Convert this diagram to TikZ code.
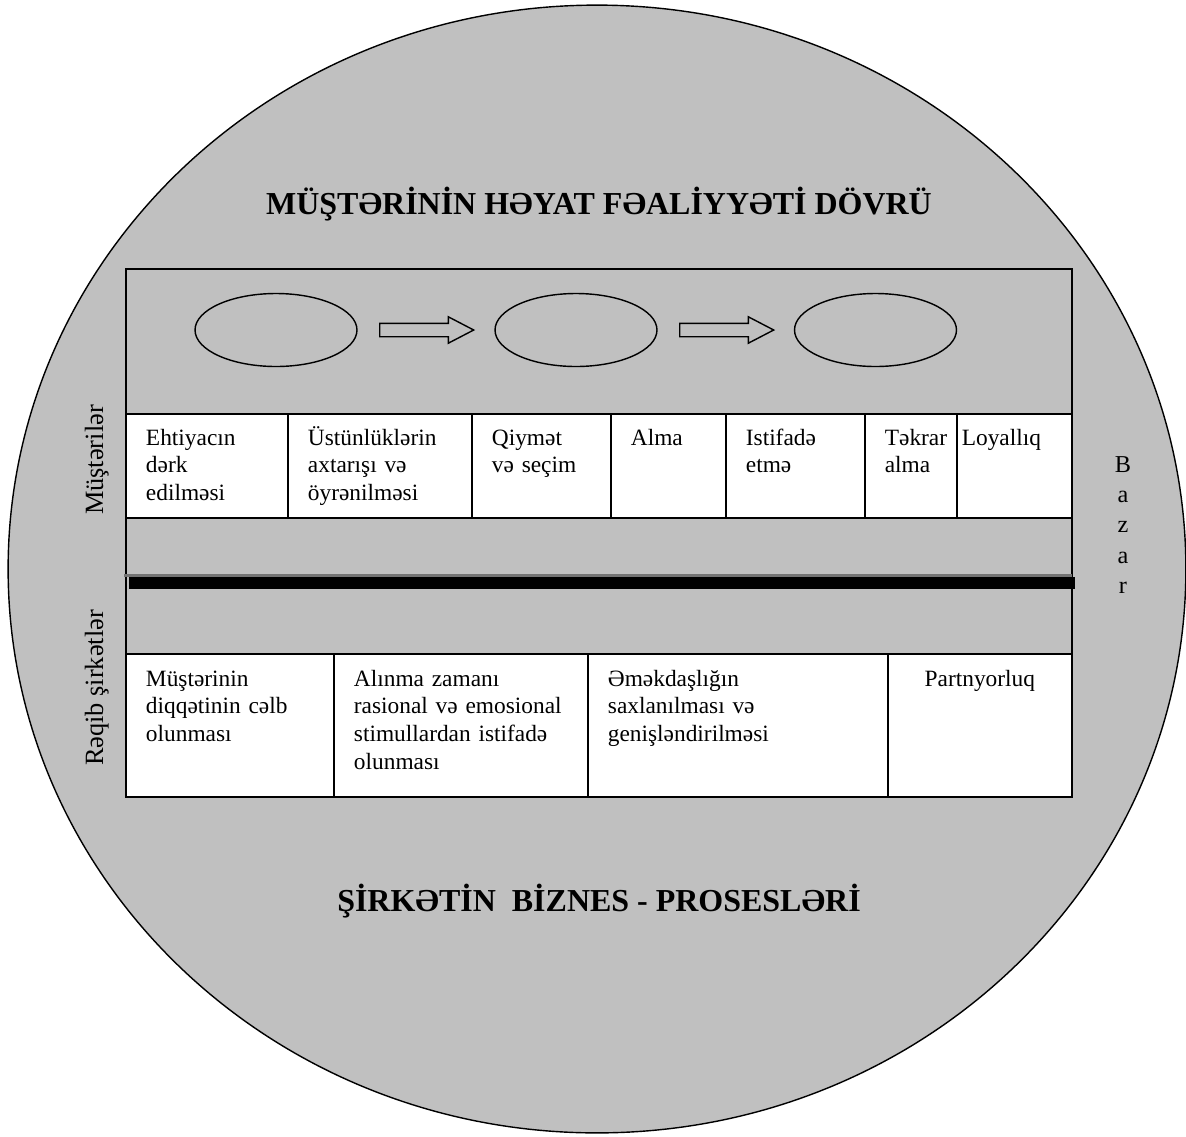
\documentclass[tikz,border=0pt]{standalone}
\usepackage{fontspec}
\setmainfont{Liberation Serif}
\usetikzlibrary{chains,positioning,shapes.geometric,shapes.arrows}
\definecolor{ringgray}{HTML}{C0C0C0}

\begin{document}
\begin{tikzpicture}[
         x = 0.02cm, y = -0.02cm,
      font = \fontsize{13.3}{15.9}\selectfont,
     node distance = 0pt,
Cell/.style={draw, fill=white, line width=1.1pt, outer sep=0pt,
             inner ysep=0pt, inner xsep=0.4cm, align=left},
TopCell/.style={Cell, text height=0.62cm, text depth=1.46cm, on chain=top},
LowCell/.style={Cell, text height=0.64cm, text depth=2.22cm, on chain=low},
Oval/.style={draw, ellipse, line width=0.8pt, inner sep=0pt,
             minimum width=3.24cm, minimum height=1.46cm},
FatArrow/.style={draw, single arrow, line width=0.8pt, inner sep=0.12cm,
             minimum height=1.88cm, single arrow head extend=0.13cm,
             single arrow tip angle=55, anchor=tail},
SideLabel/.style={rotate=90, anchor=base, font=\fontsize{15}{17}\selectfont},
BigTitle/.style={anchor=base, font=\bfseries\fontsize{18.2}{22}\selectfont},
  ]
\useasboundingbox (0,0) rectangle (1186,1136);
\draw[fill=ringgray, line width=0.8pt] (597,569) ellipse [x radius=11.78cm, y radius=11.28cm];
\draw[line width=1.1pt] (126,269) rectangle (1072,797);
% dividing bar
\draw[line width=1.7pt, black!55] (124,575) -- (1072,575);
\draw[line width=6.8pt] (129,583) -- (1075,583);

\node[Oval] (o1) at (276,330) {};
  \node[Oval] (o2) at (576,330) {};
  \node[Oval] (o3) at (875.5,330) {};
\node[FatArrow] (r1) at (379,330) {};
  \node[FatArrow] (r2) at (679,330) {};

\begin{scope}[start chain=top going right]
\node[TopCell, text width=2.44cm, anchor=north west] (a1) at (126,414) {Ehtiyacın\\dərk\\edilməsi};
  \node[TopCell, text width=2.88cm] (a2) {Üstünlüklərin\\axtarışı və\\öyrənilməsi};
  \node[TopCell, text width=1.98cm] (a3) {Qiymət\\və seçim};
  \node[TopCell, text width=1.5cm] (a4) {Alma};
  \node[TopCell, text width=1.98cm] (a5) {Istifadə\\etmə};
  \node[TopCell, text width=1.04cm] (a6) {Təkrar\\alma};
  \node[TopCell, text width=2.1cm, inner xsep=0.1cm] (a7) {Loyallıq};
\end{scope}

\begin{scope}[start chain=low going right]
\node[LowCell, text width=3.36cm, anchor=north west] (b1) at (126,654) {Müştərinin\\diqqətinin cəlb\\olunması};
  \node[LowCell, text width=4.28cm] (b2) {Alınma zamanı\\rasional və emosional\\stimullardan istifadə\\olunması};
  \node[LowCell, text width=5.2cm] (b3) {Əməkdaşlığın\\saxlanılması və\\genişləndirilməsi};
  \node[LowCell, text width=2.88cm, align=center] (b4) {Partnyorluq};
\end{scope}

\node[SideLabel] (musteri) at (103,460) {Müştərilər};
\node[SideLabel] (reqib) at (103,688) {Rəqib şirkətlər};
\node[align=center, font=\fontsize{13.8}{17.3}\selectfont] (bazar) at (1123,525) {B\\a\\z\\a\\r};

\node[BigTitle] (title) at (599,214) {MÜŞTƏRİNİN HƏYAT FƏALİYYƏTİ DÖVRÜ};
\node[BigTitle] (biznes) at (599,911) {ŞİRKƏTİN\ \ BİZNES - PROSESLƏRİ};
\end{tikzpicture}
\end{document}
